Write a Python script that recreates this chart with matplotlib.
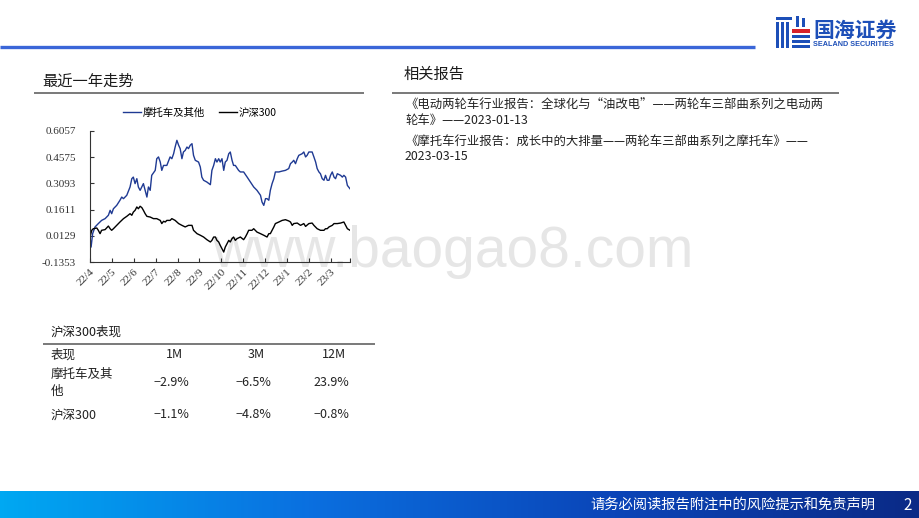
import numpy as np
import matplotlib
matplotlib.use("Agg")
import matplotlib.pyplot as plt
from matplotlib.colors import LinearSegmentedColormap
from matplotlib.lines import Line2D
from matplotlib.patches import Rectangle

plt.rcParams["font.family"] = ["Noto Sans CJK SC", "DejaVu Sans"]

# ---- data ----
month_labels = ["22/4", "22/5", "22/6", "22/7", "22/8", "22/9", "22/10",
                "22/11", "22/12", "23/1", "23/2", "23/3"]
y_ticks = [-0.1353, 0.0129, 0.1611, 0.3093, 0.4575, 0.6057]

# x = months since 2022/4
moto_t = [0.00, 0.05, 0.12, 0.23, 0.38, 0.53, 0.69, 0.84, 0.92, 0.99, 1.07, 1.22,
          1.37, 1.45, 1.53, 1.68, 1.83, 1.91, 1.98, 2.06, 2.14, 2.21, 2.29, 2.44,
          2.52, 2.60, 2.67, 2.75, 2.82, 2.98, 3.05, 3.13, 3.21, 3.28, 3.36, 3.51,
          3.66, 3.74, 3.82, 3.89, 3.97, 4.05, 4.12, 4.20, 4.27, 4.35, 4.43, 4.50,
          4.58, 4.66, 4.73, 4.81, 4.96, 5.04, 5.11, 5.19, 5.34, 5.50, 5.57, 5.65,
          5.73, 5.80, 5.88, 5.95, 6.03, 6.11, 6.18, 6.26, 6.34, 6.41, 6.49, 6.56,
          6.64, 6.79, 6.87, 7.02, 7.18, 7.33, 7.48, 7.63, 7.79, 7.86, 7.94, 8.02,
          8.09, 8.17, 8.24, 8.32, 8.40, 8.47, 8.63, 8.78, 8.93, 9.08, 9.16, 9.24,
          9.31, 9.39, 9.47, 9.54, 9.69, 9.77, 9.85, 9.92, 10.00, 10.15, 10.23, 10.31,
          10.38, 10.46, 10.53, 10.61, 10.69, 10.76, 10.84, 10.92, 10.99, 11.07, 11.15,
          11.22, 11.30, 11.45, 11.53, 11.60, 11.68, 11.76, 11.88]
moto_v = [0.006, -0.051, 0.025, 0.063, 0.082, 0.100, 0.110, 0.129, 0.157, 0.138, 0.166, 0.185,
          0.214, 0.232, 0.223, 0.242, 0.289, 0.336, 0.345, 0.308, 0.336, 0.289, 0.270, 0.308,
          0.270, 0.232, 0.289, 0.270, 0.355, 0.383, 0.449, 0.459, 0.430, 0.383, 0.411, 0.411,
          0.459, 0.449, 0.477, 0.515, 0.553, 0.525, 0.506, 0.449, 0.487, 0.496, 0.515, 0.506,
          0.525, 0.534, 0.468, 0.440, 0.430, 0.402, 0.345, 0.327, 0.317, 0.302, 0.383, 0.411,
          0.449, 0.430, 0.449, 0.430, 0.449, 0.383, 0.430, 0.440, 0.477, 0.487, 0.440, 0.411,
          0.411, 0.383, 0.374, 0.374, 0.345, 0.317, 0.289, 0.270, 0.242, 0.204, 0.185, 0.223,
          0.223, 0.214, 0.270, 0.308, 0.336, 0.374, 0.374, 0.379, 0.383, 0.393, 0.421, 0.430,
          0.440, 0.421, 0.449, 0.468, 0.477, 0.487, 0.459, 0.468, 0.487, 0.487, 0.459, 0.430,
          0.393, 0.374, 0.364, 0.336, 0.327, 0.355, 0.327, 0.327, 0.355, 0.374, 0.345,
          0.336, 0.364, 0.355, 0.345, 0.355, 0.345, 0.298, 0.279]

hs300_t = [0.00, 0.08, 0.15, 0.31, 0.38, 0.46, 0.53, 0.69, 0.84, 0.92, 0.99, 1.07,
           1.22, 1.37, 1.53, 1.68, 1.83, 1.91, 1.98, 2.06, 2.14, 2.21, 2.29, 2.37,
           2.44, 2.52, 2.60, 2.75, 2.90, 3.05, 3.21, 3.28, 3.36, 3.44, 3.51, 3.66,
           3.74, 3.89, 4.05, 4.20, 4.35, 4.50, 4.66, 4.73, 4.89, 5.04, 5.19, 5.34,
           5.50, 5.57, 5.65, 5.73, 5.80, 5.88, 5.95, 6.03, 6.11, 6.18, 6.26, 6.34,
           6.41, 6.49, 6.56, 6.64, 6.72, 6.87, 7.02, 7.10, 7.18, 7.25, 7.40, 7.48,
           7.63, 7.79, 7.94, 8.09, 8.17, 8.24, 8.32, 8.40, 8.47, 8.63, 8.78, 8.93,
           9.08, 9.16, 9.24, 9.31, 9.47, 9.62, 9.77, 9.85, 10.00, 10.15, 10.23, 10.38,
           10.53, 10.69, 10.76, 10.84, 10.92, 11.07, 11.15, 11.30, 11.45, 11.60, 11.68,
           11.76, 11.88]
hs300_v = [0.006, 0.044, 0.053, 0.057, 0.044, 0.025, 0.044, 0.048, 0.068, 0.053, 0.044, 0.053,
           0.072, 0.091, 0.110, 0.123, 0.138, 0.129, 0.147, 0.157, 0.176, 0.166, 0.180, 0.172,
           0.157, 0.138, 0.123, 0.119, 0.110, 0.110, 0.100, 0.082, 0.095, 0.091, 0.100, 0.100,
           0.110, 0.100, 0.082, 0.072, 0.063, 0.072, 0.072, 0.044, 0.025, 0.016, 0.006, -0.009,
           -0.022, -0.013, 0.006, 0.006, -0.013, -0.022, -0.041, -0.060, -0.079, -0.051, -0.032, -0.013,
           -0.022, -0.003, 0.006, -0.013, -0.003, 0.006, -0.009, 0.006, 0.025, 0.044, 0.044, 0.053,
           0.034, 0.025, 0.016, 0.006, 0.025, 0.025, 0.044, 0.063, 0.082, 0.091, 0.100, 0.104,
           0.097, 0.091, 0.072, 0.082, 0.085, 0.072, 0.082, 0.066, 0.082, 0.085, 0.072, 0.053,
           0.044, 0.044, 0.053, 0.053, 0.063, 0.072, 0.082, 0.082, 0.085, 0.091, 0.072,
           0.053, 0.044]
series_names = ["摩托车及其他", "沪深300"]

table_cols = ["1M", "3M", "12M"]
table_rows = ["摩托车及其\n他", "沪深300"]
table_vals = [["−2.9%", "−6.5%", "23.9%"],
              ["−1.1%", "−4.8%", "−0.8%"]]

reports = ["《电动两轮车行业报告：全球化与“油改电”——两轮车三部曲系列之电动两",
           "轮车》——2023-01-13",
           "《摩托车行业报告：成长中的大排量——两轮车三部曲系列之摩托车》——",
           "2023-03-15"]

W, H = 920, 518


def fx(x):
    return x / W


def fy(y):
    return 1 - y / H


def hline(fig, x0, x1, y, color, lw):
    fig.add_artist(Line2D([fx(x0), fx(x1)], [fy(y), fy(y)], transform=fig.transFigure,
                          color=color, lw=lw, solid_capstyle="butt"))


fig = plt.figure(figsize=(W / 100, H / 100), dpi=100)
fig.patch.set_facecolor("white")

# watermark behind everything
fig.text(fx(212), fy(267), "www.baogao8.com", fontsize=41, color="#e6e6e6",
         family="Liberation Sans", va="baseline", ha="left", zorder=-1)

# header band
hline(fig, 0, 755, 47, "#3a66d8", 2.4)
logo = fig.add_axes([fx(775), fy(48), 35 / W, 32 / H])
logo.set_xlim(0, 35)
logo.set_ylim(32, 0)
logo.axis("off")
for x0, y0, w, h, c in [(1, 1, 16, 3, "#1d4fb8"), (1, 6, 3, 26, "#1d4fb8"),
                        (6, 6, 3, 26, "#1d4fb8"), (11, 6, 3, 26, "#1d4fb8"),
                        (21, 0, 3, 11, "#1d4fb8"), (27, 2, 3, 9, "#1d4fb8"),
                        (17, 13, 18, 4, "#d9222a"), (17, 19, 18, 3, "#1d4fb8"),
                        (17, 24, 18, 3, "#1d4fb8"), (17, 29, 18, 3, "#1d4fb8")]:
    logo.add_patch(Rectangle((x0, y0), w, h, color=c, lw=0))
fig.text(fx(813), fy(30), "国海证券", fontsize=15, fontweight="bold", color="#1d4fb8",
         va="center", ha="left")
fig.text(fx(813), fy(44.5), "SEALAND SECURITIES", fontsize=5.2, fontweight="bold",
         color="#1d4fb8", family="Liberation Sans", va="center", ha="left")

# section titles
fig.text(fx(42), fy(81), "最近一年走势", fontsize=11, color="#1a1a1a", va="center")
hline(fig, 34, 364, 93, "#6e6e6e", 1.3)
fig.text(fx(404), fy(74), "相关报告", fontsize=11, color="#1a1a1a", va="center")
hline(fig, 392, 839, 92.5, "#6e6e6e", 1.3)
for txt, y in zip(reports, [104, 120, 141, 157]):
    fig.text(fx(405), fy(y), txt, fontsize=8.9, color="#222222", va="center")

# line chart
ax = fig.add_axes([fx(90), fy(262), (350 - 90) / W, (262 - 131) / H])
ax.patch.set_visible(False)
ax.plot(moto_t, moto_v, color="#1f3a93", lw=1.0, label=series_names[0])
ax.plot(hs300_t, hs300_v, color="black", lw=1.0, label=series_names[1])
ax.set_xlim(0, 11.88)
ax.set_ylim(y_ticks[0], y_ticks[-1])
ax.set_yticks(y_ticks)
ax.set_yticklabels([f"{v:.4f}" for v in y_ticks], family="Liberation Serif",
                   fontsize=8, color="#333333")
ax.set_xticks(range(len(month_labels)))
ax.set_xticks([11.88], minor=True)
ax.set_xticklabels(month_labels, rotation=45, ha="right", va="top",
                   rotation_mode="anchor", family="Liberation Serif",
                   fontsize=8, color="#333333")
ax.tick_params(axis="y", direction="in", length=3, width=0.8, pad=10, colors="#333333")
ax.tick_params(axis="x", which="both", direction="in", length=3, width=0.8, pad=4,
               colors="#333333")
for s in ["top", "right"]:
    ax.spines[s].set_visible(False)
for s in ["left", "bottom"]:
    ax.spines[s].set_color("#333333")
    ax.spines[s].set_linewidth(0.8)
fig.legend(loc="center", bbox_to_anchor=(fx(200), fy(113)), ncol=2, frameon=False,
           fontsize=7.5, handlelength=1.7, handletextpad=0.2, columnspacing=1.3)

# performance table
fig.text(fx(51), fy(332.5), "沪深300表现", fontsize=9, color="#1a1a1a", va="center")
hline(fig, 43, 375, 343.5, "#6e6e6e", 1.3)
col_x = [174, 256, 334]
fig.text(fx(51), fy(355), "表现", fontsize=9, color="#222222", va="center")
for cx, c in zip(col_x, table_cols):
    fig.text(fx(cx), fy(355), c, fontsize=9, color="#222222", va="center", ha="center")
for ry, rname, vals in zip([383, 415], table_rows, table_vals):
    fig.text(fx(51), fy(ry), rname, fontsize=9, color="#222222", va="center",
             linespacing=1.35)
    for cx, v in zip(col_x, vals):
        fig.text(fx(cx - 3), fy(ry), v, fontsize=9, color="#222222", va="center",
                 ha="center")

# footer gradient bar
bar = fig.add_axes([0, 0, 1, 27 / H])
cmap = LinearSegmentedColormap.from_list("footer", ["#00a8f2", "#0a70e0", "#0b45b8", "#0a2a86"])
bar.imshow(np.linspace(0, 1, 256)[None, :], aspect="auto", cmap=cmap, extent=[0, 1, 0, 1])
bar.axis("off")
fig.text(fx(590), fy(505), "请务必阅读报告附注中的风险提示和免责声明", fontsize=10.3,
         color="white", va="center", ha="left")
fig.text(fx(908), fy(505), "2", fontsize=11, color="white", va="center", ha="center")

fig.savefig("out.png", dpi=100)
